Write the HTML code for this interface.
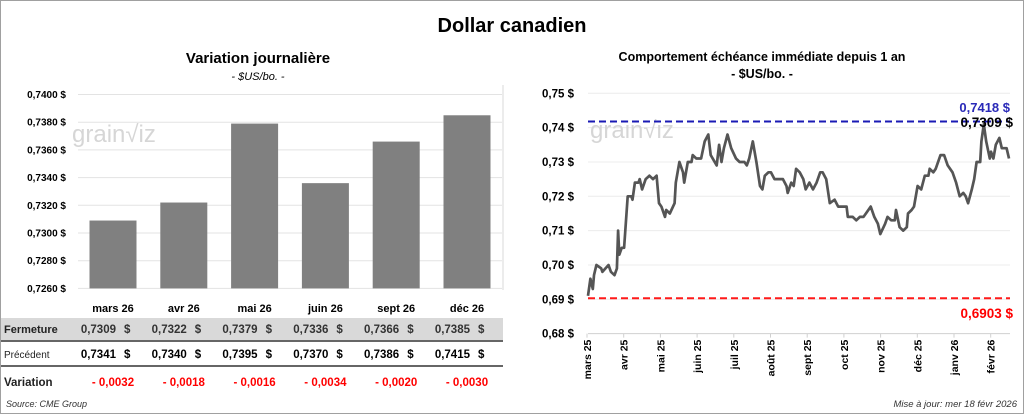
<!DOCTYPE html>
<html><head><meta charset="utf-8"><style>
body{margin:0;background:#fff;}
svg{display:block;font-family:"Liberation Sans",sans-serif;}
</style></head><body>
<svg width="1024" height="414" viewBox="0 0 1024 414">
<rect x="0.5" y="0.5" width="1023" height="413" fill="#fff" stroke="#a0a0a0"/>
<text x="512" y="32" text-anchor="middle" font-size="20" font-weight="bold" fill="#000">Dollar canadien</text>
<text x="258" y="63" text-anchor="middle" font-size="15" font-weight="bold">Variation  journalière</text>
<text x="258" y="80" text-anchor="middle" font-size="11" font-style="italic">- $US/bo. -</text>
<text x="762" y="61" text-anchor="middle" font-size="12.5" font-weight="bold">Comportement échéance immédiate depuis 1 an</text>
<text x="762" y="78" text-anchor="middle" font-size="12.5" font-weight="bold">- $US/bo. -</text>
<line x1="503" y1="85" x2="503" y2="290" stroke="#d8d8d8"/>
<g id="left"></g>
<g id="table"></g>
<g id="right"></g>
<text x="6" y="407" font-size="9" font-style="italic" fill="#333">Source: CME Group</text>
<text x="1017" y="407" text-anchor="end" font-size="9.5" font-style="italic" fill="#333">Mise à jour: mer 18 févr 2026</text>
</svg>
<script>
const barCats=["mars 26","avr 26","mai 26","juin 26","sept 26","déc 26"];
const closeVals=[0.7309,0.7322,0.7379,0.7336,0.7366,0.7385];
const prevVals=[0.7341,0.7340,0.7395,0.7370,0.7386,0.7415];
const barTicks=[0.7260,0.7280,0.7300,0.7320,0.7340,0.7360,0.7380,0.7400];
const lineDays=[0,2,4,5,7,11,12,17,19,22,24,25,26,28,30,33,36,37,39,42,43,45,48,51,54,57,59,61,64,65,68,72,73,76,79,80,83,86,87,90,94,97,100,102,107,109,111,113,116,119,123,126,130,132,134,137,139,140,143,145,147,150,152,155,158,162,165,166,169,171,173,176,179,181,184,187,190,193,195,198,201,205,208,210,215,216,220,223,226,229,231,235,238,241,243,247,249,252,255,256,259,262,265,266,269,271,274,277,280,283,284,287,289,293,296,299,303,306,309,312,314,316,319,321,323,326,327,329,331,334,335,337,339,342,344,348,350];
const lineVals=[0.691,0.696,0.693,0.697,0.700,0.699,0.698,0.700,0.698,0.697,0.699,0.710,0.703,0.705,0.705,0.720,0.720,0.719,0.724,0.724,0.725,0.722,0.725,0.726,0.725,0.726,0.718,0.717,0.714,0.716,0.715,0.718,0.724,0.730,0.727,0.724,0.730,0.730,0.732,0.731,0.731,0.736,0.738,0.732,0.729,0.735,0.730,0.734,0.738,0.734,0.731,0.730,0.730,0.729,0.731,0.736,0.732,0.730,0.723,0.722,0.726,0.727,0.727,0.725,0.725,0.725,0.723,0.721,0.724,0.723,0.728,0.727,0.725,0.722,0.724,0.722,0.724,0.727,0.727,0.725,0.718,0.719,0.717,0.717,0.717,0.714,0.714,0.713,0.714,0.714,0.715,0.717,0.714,0.712,0.709,0.712,0.714,0.713,0.713,0.716,0.711,0.710,0.711,0.715,0.716,0.717,0.723,0.722,0.726,0.726,0.728,0.727,0.728,0.732,0.732,0.729,0.727,0.724,0.720,0.721,0.720,0.718,0.722,0.725,0.730,0.730,0.736,0.741,0.736,0.731,0.733,0.731,0.735,0.737,0.734,0.734,0.731];
const lineTicks=[0.68,0.69,0.70,0.71,0.72,0.73,0.74,0.75];
const monthLabels=["mars 25","avr 25","mai 25","juin 25","juil 25","août 25","sept 25","oct 25","nov 25","déc 25","janv 26","févr 26"];
const maxVal=0.7418, minVal=0.6903, lastVal=0.7309;

const NS="http://www.w3.org/2000/svg";
function mk(p,t,a,txt){const e=document.createElementNS(NS,t);for(const k in a)e.setAttribute(k,a[k]);if(txt!==undefined)e.textContent=txt;p.appendChild(e);return e;}
const fmt=(v,d)=>v.toFixed(d).replace('.',',');

const L=document.getElementById('left');
const by=v=>94.5+(0.7400-v)/0.0020*27.7;
const bx=i=>113+i*70.8;
barTicks.forEach(t=>{
 const g=mk(L,'line',{x1:78,x2:502,y1:by(t),y2:by(t),stroke:'#e3e3e3'});
 
 
 const tx=mk(L,'text',{x:66,y:by(t)+3.5,'text-anchor':'end','font-size':10,'font-weight':'bold'},fmt(t,4)+' $');
 
 
});
const wm1=mk(L,'text',{x:72,y:142,'font-size':24,fill:'#d6d6d6'},'grain\u221Aiz');


closeVals.forEach((v,i)=>{
 const r=mk(L,'rect',{x:bx(i)-23.5,y:by(v),width:47,height:by(0.7260)-by(v),fill:'#808080'});
 
 
});

const T=document.getElementById('table');
const gr=mk(T,'rect',{x:1,y:318,width:502,height:22,fill:'#d9d9d9'});


const l1=mk(T,'line',{x1:1,x2:503,y1:341,y2:341,stroke:'#333','stroke-width':1.5});


const l2=mk(T,'line',{x1:1,x2:503,y1:366,y2:366,stroke:'#333','stroke-width':1.5});


const rl=[['Fermeture',333,11,'bold'],['Précédent',358,10,'normal'],['Variation',386,11.5,'bold']];
rl.forEach(r=>{const e=mk(T,'text',{x:4,y:r[1],'font-size':r[2],'font-weight':r[3],fill:'#222'},r[0]);
 
 });
barCats.forEach((c,i)=>{
 const x=bx(i);
 const h=mk(T,'text',{x:x,y:312,'text-anchor':'middle','font-size':11,'font-weight':'bold'},c);
 
 
 const a=mk(T,'text',{x:x+3,y:333,'text-anchor':'end','font-size':11.5,'font-weight':'bold',fill:'#333'},fmt(closeVals[i],4));
 
 
 const a2=mk(T,'text',{x:x+11,y:333,'font-size':11.5,'font-weight':'bold',fill:'#333'},'$');
 
 
 const b=mk(T,'text',{x:x+3,y:358,'text-anchor':'end','font-size':11.5,'font-weight':'bold'},fmt(prevVals[i],4));
 
 
 const b2=mk(T,'text',{x:x+11,y:358,'font-size':11.5,'font-weight':'bold'},'$');
 
 
 const d=closeVals[i]-prevVals[i];
 const v=mk(T,'text',{x:x,y:386,'text-anchor':'middle','font-size':11.5,'font-weight':'bold',fill:'#ff0000'},(d<0?'- ':'+ ')+fmt(Math.abs(d),4));
 
 
});

const R=document.getElementById('right');
const ly=v=>93.3+(0.75-v)/0.01*34.33;
const lx=d=>588+d*1.203;
lineTicks.forEach(t=>{
 const g=mk(R,'line',{x1:588,x2:1010,y1:ly(t),y2:ly(t),stroke:t===0.68?'#d0d0d0':'#ececec'});
 
 
 const tx=mk(R,'text',{x:574,y:ly(t)+4,'text-anchor':'end','font-size':11.5,'font-weight':'bold'},fmt(t,2)+' $');
 
 
});
monthLabels.forEach((m,i)=>{
 const x=587+i*36.7;
 const tk=mk(R,'line',{x1:x,x2:x,y1:ly(0.68),y2:ly(0.68)+4,stroke:'#d0d0d0'});
 
 
 const t=mk(R,'text',{x:0,y:0,'text-anchor':'end','font-size':10.5,'font-weight':'bold',transform:`translate(${x+4},${ly(0.68)+6}) rotate(-90)`},m);
 
 
});
const wm2=mk(R,'text',{x:590,y:138,'font-size':24,fill:'#d6d6d6'},'grain\u221Aiz');


const mx=mk(R,'line',{x1:588,x2:1010,y1:ly(maxVal),y2:ly(maxVal),stroke:'#1a1ab4','stroke-width':2,'stroke-dasharray':'7,4'});


const mn=mk(R,'line',{x1:588,x2:1010,y1:ly(minVal),y2:ly(minVal),stroke:'#ff1a1a','stroke-width':2,'stroke-dasharray':'7,4'});


let dstr=lineVals.map((v,i)=>(i?'L':'M')+lx(lineDays[i]).toFixed(1)+','+ly(v).toFixed(1)).join(' ');
const p=mk(R,'path',{d:dstr,fill:'none',stroke:'#555','stroke-width':2.7,'stroke-linejoin':'round'});


const t1=mk(R,'text',{x:1010,y:112,'text-anchor':'end','font-size':13,'font-weight':'bold',fill:'#2a2ab8'},fmt(maxVal,4)+'  $');


const t2=mk(R,'text',{x:1013,y:127,'text-anchor':'end','font-size':13.5,'font-weight':'bold',fill:'#000'},fmt(lastVal,4)+' $');


const t3=mk(R,'text',{x:1013,y:318,'text-anchor':'end','font-size':13.5,'font-weight':'bold',fill:'#ff0000'},fmt(minVal,4)+' $');


</script>
</body></html>
